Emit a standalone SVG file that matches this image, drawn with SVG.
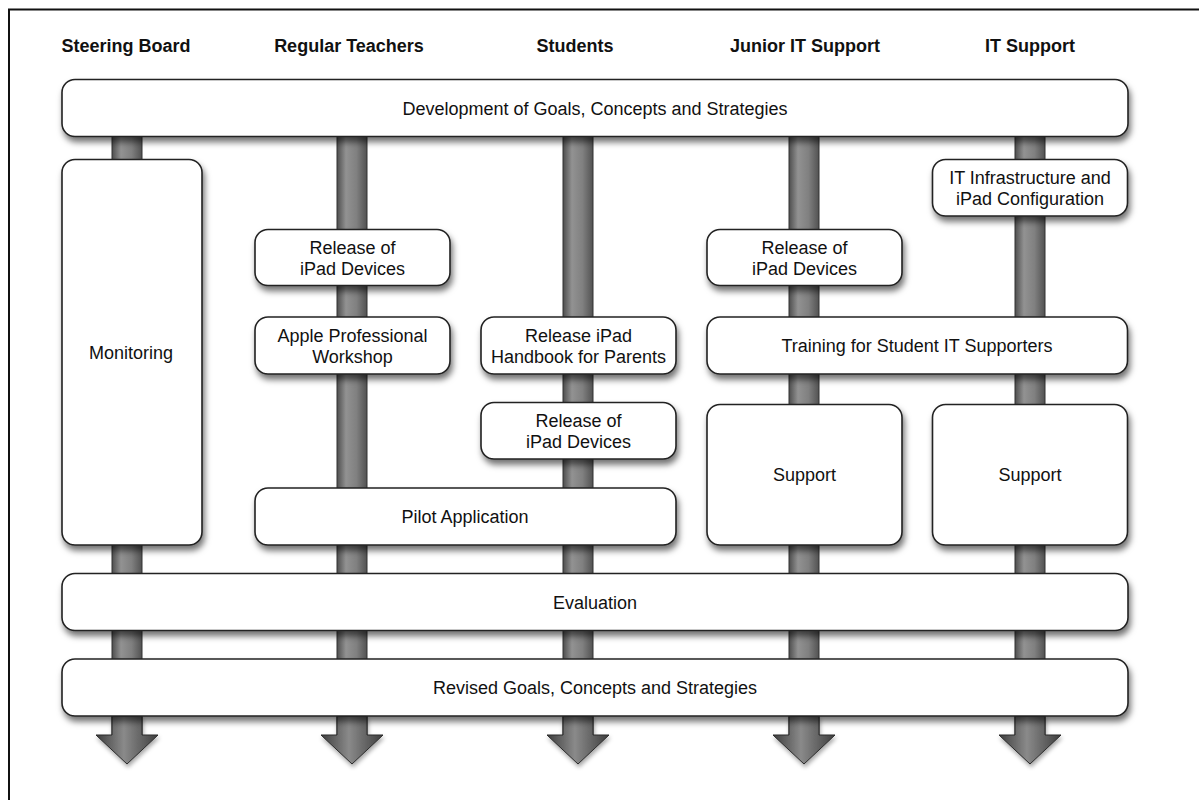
<svg xmlns="http://www.w3.org/2000/svg" width="1199" height="800" viewBox="0 0 1199 800">
<defs>
<linearGradient id="pipeG" x1="0" y1="0" x2="1" y2="0">
<stop offset="0" stop-color="#4e4e4e"/>
<stop offset="0.3" stop-color="#929292"/>
<stop offset="0.65" stop-color="#808080"/>
<stop offset="1" stop-color="#525252"/>
</linearGradient>
<linearGradient id="headG" x1="0" y1="0" x2="1" y2="0">
<stop offset="0" stop-color="#3e3e3e"/>
<stop offset="0.45" stop-color="#8a8a8a"/>
<stop offset="1" stop-color="#3e3e3e"/>
</linearGradient>
<filter id="sh" x="-10%" y="-20%" width="120%" height="150%">
<feDropShadow dx="2" dy="5" stdDeviation="3" flood-color="#000" flood-opacity="0.55"/>
</filter>
<filter id="shA" x="-30%" y="-30%" width="160%" height="160%">
<feDropShadow dx="1" dy="3" stdDeviation="2" flood-color="#000" flood-opacity="0.35"/>
</filter>
</defs>
<style>
.box{fill:#fff;stroke:#222;stroke-width:1.6;filter:url(#sh)}
.pipe{fill:url(#pipeG);stroke:#333;stroke-width:1}
.arrow{fill:url(#headG);stroke:#2a2a2a;stroke-width:1;filter:url(#shA)}
.hdr{font-family:"Liberation Sans",Arial,sans-serif;font-weight:bold;font-size:18px;fill:#111;text-anchor:middle}
.t{font-family:"Liberation Sans",Arial,sans-serif;font-size:18px;fill:#111;text-anchor:middle}
</style>
<rect width="1199" height="800" fill="#fff"/>
<path d="M9 800 V9.5 H1199" fill="none" stroke="#111" stroke-width="2"/>

<g id="headers">
<text class="hdr" x="126" y="52">Steering Board</text>
<text class="hdr" x="349" y="52">Regular Teachers</text>
<text class="hdr" x="575" y="52">Students</text>
<text class="hdr" x="805" y="52">Junior IT Support</text>
<text class="hdr" x="1030" y="52">IT Support</text>
</g>

<g id="connectors">
<rect class="pipe" x="112" y="100" width="30" height="636"/>
<rect class="pipe" x="337" y="100" width="30" height="636"/>
<rect class="pipe" x="563" y="100" width="30" height="636"/>
<rect class="pipe" x="789" y="100" width="30" height="636"/>
<rect class="pipe" x="1015" y="100" width="30" height="636"/>
<path class="arrow" d="M112 716 V735 H96 L127 764 L158 735 H142 V716 Z"/>
<path class="arrow" d="M337 716 V735 H321 L352 764 L383 735 H367 V716 Z"/>
<path class="arrow" d="M563 716 V735 H547 L578 764 L609 735 H593 V716 Z"/>
<path class="arrow" d="M789 716 V735 H773 L804 764 L835 735 H819 V716 Z"/>
<path class="arrow" d="M1015 716 V735 H999 L1030 764 L1061 735 H1045 V716 Z"/>
</g>

<g id="goals">
<rect class="box" x="62" y="79.5" width="1066" height="57" rx="13"/>
<text class="t" x="595" y="114.5">Development of Goals, Concepts and Strategies</text>
</g>
<g id="monitoring">
<rect class="box" x="62" y="159.5" width="140" height="385.5" rx="13"/>
<text class="t" x="131" y="358.5">Monitoring</text>
</g>
<g id="teachers-release">
<rect class="box" x="255" y="229.5" width="195" height="56" rx="13"/>
<text class="t" x="352.5" y="253.5">Release of</text>
<text class="t" x="352.5" y="274.5">iPad Devices</text>
</g>
<g id="apple-workshop">
<rect class="box" x="255" y="317" width="195" height="57" rx="13"/>
<text class="t" x="352.5" y="341.5">Apple Professional</text>
<text class="t" x="352.5" y="362.5">Workshop</text>
</g>
<g id="handbook">
<rect class="box" x="481" y="317" width="195" height="57" rx="13"/>
<text class="t" x="578.5" y="341.5">Release iPad</text>
<text class="t" x="578.5" y="362.5">Handbook for Parents</text>
</g>
<g id="students-release">
<rect class="box" x="481" y="402.5" width="195" height="56.5" rx="13"/>
<text class="t" x="578.5" y="426.5">Release of</text>
<text class="t" x="578.5" y="447.5">iPad Devices</text>
</g>
<g id="pilot">
<rect class="box" x="255" y="488" width="421" height="57" rx="13"/>
<text class="t" x="465" y="522.5">Pilot Application</text>
</g>
<g id="it-infrastructure">
<rect class="box" x="932.5" y="159.5" width="195" height="56.5" rx="13"/>
<text class="t" x="1030" y="183.5">IT Infrastructure and</text>
<text class="t" x="1030" y="204.5">iPad Configuration</text>
</g>
<g id="junior-release">
<rect class="box" x="707" y="229.5" width="195" height="56" rx="13"/>
<text class="t" x="804.5" y="253.5">Release of</text>
<text class="t" x="804.5" y="274.5">iPad Devices</text>
</g>
<g id="training">
<rect class="box" x="707" y="317" width="420.5" height="57" rx="13"/>
<text class="t" x="917" y="351.5">Training for Student IT Supporters</text>
</g>
<g id="junior-support">
<rect class="box" x="707" y="404.5" width="195" height="140.5" rx="13"/>
<text class="t" x="804.5" y="481">Support</text>
</g>
<g id="it-support">
<rect class="box" x="932.5" y="404.5" width="195" height="140.5" rx="13"/>
<text class="t" x="1030" y="481">Support</text>
</g>
<g id="evaluation">
<rect class="box" x="62" y="573.5" width="1066" height="57" rx="13"/>
<text class="t" x="595" y="608.5">Evaluation</text>
</g>
<g id="revised">
<rect class="box" x="62" y="659" width="1066" height="57" rx="13"/>
<text class="t" x="595" y="694">Revised Goals, Concepts and Strategies</text>
</g>
</svg>
